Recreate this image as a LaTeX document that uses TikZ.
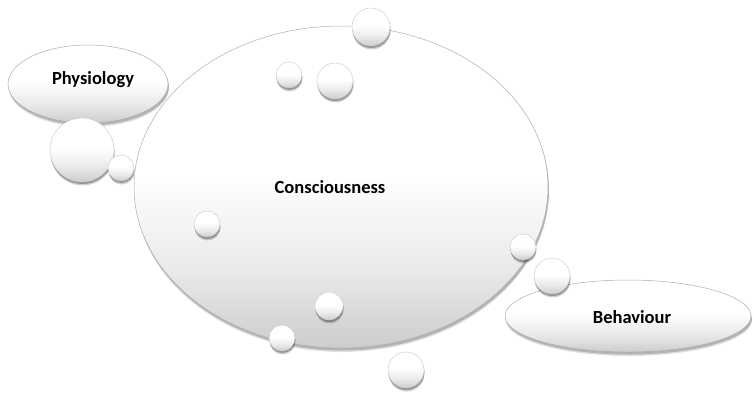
\documentclass[tikz,border=0pt]{standalone}
\usepackage{fontspec}
\setsansfont{Carlito}
\usetikzlibrary{
    shapes.geometric,
    shadows
}
\definecolor{bubblegray}{RGB}{205,205,205}
\definecolor{rimgray}{RGB}{175,175,175}
% white upper half, grey towards the bottom
\pgfdeclareverticalshading{bubbleshade}{100bp}{
    color(0bp)=(bubblegray); color(25bp)=(bubblegray);
    color(38bp)=(white!60!bubblegray); color(52bp)=(white);
    color(100bp)=(white)}
\tikzstyle{bubble} = [
    ellipse,
    draw=rimgray,
    line width=0.5pt,
    shading=bubbleshade,
    inner sep=0pt,
    drop shadow={shadow xshift=1pt, shadow yshift=-4pt, opacity=0.12, fill=black},
    drop shadow={shadow xshift=1pt, shadow yshift=-2.5pt, opacity=0.2, fill=black}
]
\tikzstyle{dot} = [
    circle,
    draw=rimgray!70,
    line width=0.4pt,
    shading=bubbleshade,
    inner sep=0pt,
    drop shadow={shadow xshift=0.6pt, shadow yshift=-3.5pt, opacity=0.18, fill=black},
    drop shadow={shadow xshift=0.4pt, shadow yshift=-2pt, opacity=0.28, fill=black}
]
\tikzstyle{caption} = [
    font=\sffamily\bfseries\fontsize{18.5}{22}\selectfont
]

\begin{document}
\begin{tikzpicture}[x=1pt, y=-1pt]
    \useasboundingbox (0,0) rectangle (754,392);

    % Consciousness (main bubble)
    \node[bubble, minimum width=414pt, minimum height=322pt,
          label={[caption, xshift=-11pt]center:Consciousness}] (mind) at (341,187) {};

    % Physiology
    \node[bubble, minimum width=160pt, minimum height=78pt,
          label={[caption, xshift=5pt, yshift=4pt]center:Physiology}] (phys) at (88,84) {};

    % Behaviour
    \node[bubble, minimum width=246pt, minimum height=72pt,
          label={[caption, xshift=4pt, yshift=-1pt]center:Behaviour}] (behav) at (628,316) {};

    % bubbles near Physiology
    \node[dot, minimum size=64pt] (physbig) at (82,150) {};
    \node[dot, minimum size=26pt] (physsmall) at (121,168) {};

    % bubbles at the top
    \node[dot, minimum size=38pt] (topright) at (371,27) {};
    \node[dot, minimum size=26pt] (topleft) at (289,75) {};
    \node[dot, minimum size=36pt] (topmid) at (335,81) {};

    % bubble inside, left
    \node[dot, minimum size=26pt] (innerleft) at (207,224) {};

    % bubbles at the bottom
    \node[dot, minimum size=28pt] (botinner) at (329,306) {};
    \node[dot, minimum size=26pt] (botrim) at (282,338) {};
    \node[dot, minimum size=36pt] (botout) at (406,370) {};

    % bubbles near Behaviour
    \node[dot, minimum size=26pt] (behavsmall) at (523,247) {};
    \node[dot, minimum size=36pt] (behavmid) at (552,276) {};
\end{tikzpicture}
\end{document}
